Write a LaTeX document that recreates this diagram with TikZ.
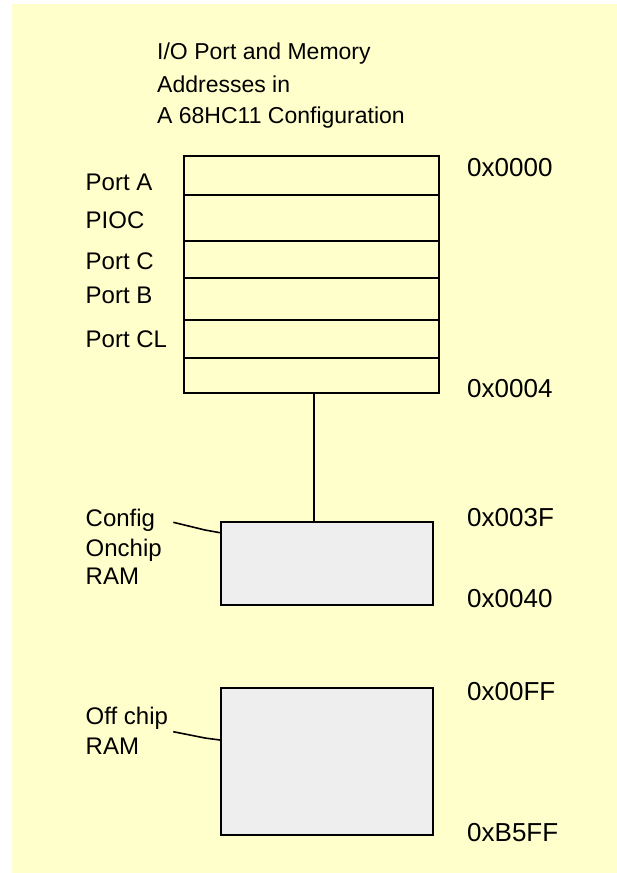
\documentclass[tikz,border=0pt]{standalone}
\usepackage{fontspec}
\setmainfont{Liberation Sans}
\begin{document}
\begin{tikzpicture}[x=1pt,y=-1pt,
  ttl/.style={anchor=base west,inner sep=0pt,font=\fontsize{23}{27}\selectfont},
  lbl/.style={anchor=base west,inner sep=0pt,font=\fontsize{24}{28}\selectfont},
  addr/.style={anchor=base west,inner sep=0pt,font=\fontsize{26}{30}\selectfont},
  cell/.style={draw,line width=2pt,minimum width=254.4pt,inner sep=0pt,anchor=north west},
  ram/.style={draw,line width=2pt,fill=ramgray,inner sep=0pt,anchor=north west,minimum width=212.3pt},
  wire/.style={line width=2pt},
  leader/.style={line width=1.6pt}]
\definecolor{bgyellow}{HTML}{FFFFCC}
\definecolor{ramgray}{HTML}{EEEEEE}
\useasboundingbox (0,0) rectangle (617,873);
\fill[white] (0,0) rectangle (617,873);
\fill[bgyellow] (12,4) rectangle (617,873);
% title
\node[ttl] (t1) at (157,59) {I/O Port and Memory};
\node[ttl] (t2) at (157,92) {Addresses in};
\node[ttl] (t3) at (157,123) {A 68HC11 Configuration};
% table rows
\node[cell,minimum height=39.3pt] (r1) at (183.3,155) {};
\node[cell,minimum height=45.7pt] (r2) at (183.3,194.3) {};
\node[cell,minimum height=36.7pt] (r3) at (183.3,240) {};
\node[cell,minimum height=42.3pt] (r4) at (183.3,276.7) {};
\node[cell,minimum height=37.7pt] (r5) at (183.3,319) {};
\node[cell,minimum height=35pt] (r6) at (183.3,356.7) {};
% row labels
\node[lbl] (lA) at (85.5,190.7) {Port A};
\node[lbl] (lP) at (85.5,228) {PIOC};
\node[lbl] (lC) at (85.5,269.7) {Port C};
\node[lbl] (lB) at (85.5,303) {Port B};
\node[lbl] (lCL) at (85.5,347.3) {Port CL};
% RAM boxes
\node[ram,minimum height=83.6pt] (cfg) at (220,520.7) {};
\node[ram,minimum height=147.6pt] (off) at (220,686.7) {};
% connector table -> config RAM
\draw[wire] ([xshift=2.8pt]r6.south) -- ([xshift=2.8pt]r6.south |- cfg.north);
% config labels
\node[lbl] (c1) at (85.5,526) {Config};
\node[lbl] (c2) at (85.5,556) {Onchip};
\node[lbl] (c3) at (85.5,584.7) {RAM};
\coordinate (c1e) at (173.3,522.3);
\draw[leader] (c1e) -- (205,530) -- (cfg.west |- 0,532.7);
% off chip labels
\node[lbl] (o1) at (85.5,724) {Off chip};
\node[lbl] (o2) at (85.5,754) {RAM};
\coordinate (o1e) at (173.3,731.7);
\draw[leader] (o1e) -- (205,738) -- (off.west |- 0,740);
% addresses
\node[addr] (a0) at (467,176.7) {0x0000};
\node[addr] (a4) at (467,397) {0x0004};
\node[addr] (a3F) at (467,526) {0x003F};
\node[addr] (a40) at (467,607) {0x0040};
\node[addr] (aFF) at (467,700) {0x00FF};
\node[addr] (aB5) at (467,841) {0xB5FF};
\end{tikzpicture}
\end{document}
